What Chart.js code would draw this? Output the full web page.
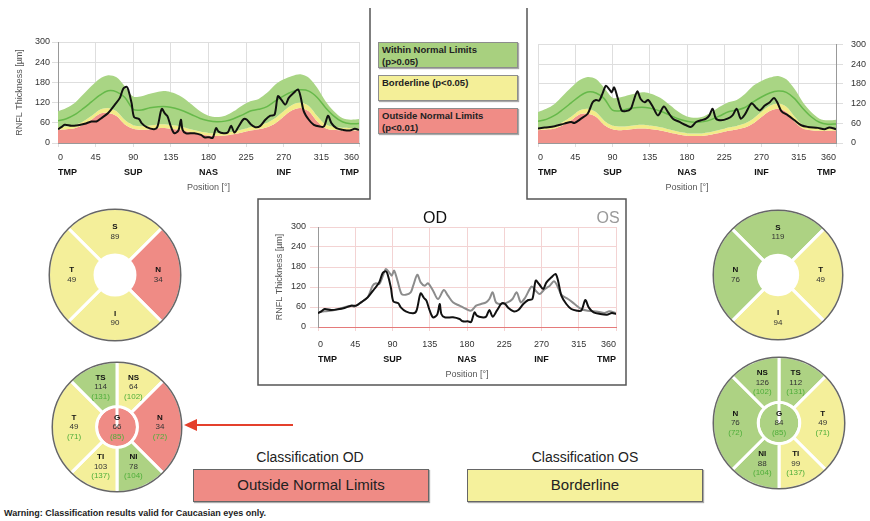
<!DOCTYPE html>
<html>
<head>
<meta charset="utf-8">
<title>RNFL Thickness OU</title>
<script src="https://cdn.jsdelivr.net/npm/chart.js"></script>
<style>
    html, body { margin: 0; padding: 0; background: #fff; }
    body { width: 870px; height: 521px; position: relative; overflow: hidden;
           font-family: 'Liberation Sans', Arial, sans-serif; color: #222; }
    canvas, svg, .txt { position: absolute; }
    .key { position: absolute; left: 378px; width: 140px; height: 26px; box-sizing: border-box;
           border: 1px solid #8d8d8d; box-shadow: 1px 1px 1px #aaa; padding: 1px 0 0 3px;
           font-size: 9.5px; font-weight: bold; line-height: 12px; color: #222; }
    .cls-title { position: absolute; top: 449px; width: 240px; text-align: center; font-size: 14px; line-height: 17px; color: #222; }
    .cls-box { position: absolute; top: 469px; width: 236px; height: 33px; box-sizing: border-box;
               border: 1.5px solid #666; box-shadow: 1px 1px 1px #aaa; text-align: center;
               font-size: 15px; line-height: 30px; color: #222; }
</style>
</head>
<body>

<svg width="870" height="521" style="left:0;top:0">
    <polyline points="370,8 370,199 258,199 258,385 626,385 626,199 527,199 527,8"
              fill="none" stroke="#555" stroke-width="1.5"/>
    <line x1="293" y1="425" x2="194" y2="425" stroke="#e4402c" stroke-width="2"/>
    <polygon points="184,425 197,419 197,431" fill="#e4402c"/>
</svg>

<div class="key" style="top:42px;background:#a8d07f">Within Normal Limits<br>(p&gt;0.05)</div>
<div class="key" style="top:75px;background:#f4ef98">Borderline (p&lt;0.05)</div>
<div class="key" style="top:108px;background:#f08c86">Outside Normal Limits<br>(p&lt;0.01)</div>

<canvas id="profileOD" width="354" height="166" style="left:10px;top:30px"></canvas>
<canvas id="profileOS" width="334" height="165" style="left:533px;top:31px"></canvas>
<canvas id="profileOU" width="354" height="168" style="left:270px;top:215px"></canvas>
<div class="txt" style="left:405px;top:209px;width:60px;text-align:center;font-size:16px;line-height:18px;color:#111">OD</div>
<div class="txt" style="left:584px;top:209px;width:48px;text-align:center;font-size:16px;line-height:18px;color:#999">OS</div>

<canvas id="quadOD" width="136" height="136" style="left:47px;top:207px"></canvas>
<canvas id="quadOS" width="134" height="134" style="left:711px;top:208px"></canvas>
<canvas id="sixOD" width="134" height="134" style="left:50px;top:360px"></canvas>
<canvas id="sixOS" width="136" height="136" style="left:711px;top:355px"></canvas>

<div class="cls-title" style="left:190px">Classification OD</div>
<div class="cls-box" style="left:193px;background:#ef8b85">Outside Normal Limits</div>
<div class="cls-title" style="left:465px">Classification OS</div>
<div class="cls-box" style="left:467px;background:#f5f19c">Borderline</div>

<div class="txt" style="left:4px;top:508px;font-size:9px;font-weight:bold;color:#222">Warning: Classification results valid for Caucasian eyes only.</div>

<script>
// Normative bands (same for both eyes), every 10 degrees
const normAngles = [0, 10, 20, 30, 40, 50, 60, 70, 80, 90, 100, 110, 120, 130, 140, 150, 160, 170, 180,
    190, 200, 210, 220, 230, 240, 250, 260, 270, 280, 290, 300, 310, 320, 330, 340, 350, 360];
const normP1 = [39, 41, 44, 54, 69, 87, 89, 80, 55, 42, 39, 41, 44, 44, 41, 37, 31, 26, 22,
    21, 22, 26, 31, 37, 41, 47, 59, 79, 97, 104, 94, 64, 44, 39, 37, 37, 37];
const normP5 = [47, 49, 53, 64, 80, 99, 104, 94, 68, 53, 50, 52, 55, 55, 52, 47, 40, 34, 30,
    29, 30, 34, 40, 47, 52, 60, 74, 95, 113, 120, 110, 80, 55, 48, 45, 44, 44];
const normP95 = [94, 104, 119, 144, 169, 191, 201, 195, 168, 138, 139, 146, 152, 154, 147, 134, 114, 94, 81,
    77, 81, 94, 111, 124, 131, 149, 174, 189, 199, 204, 194, 164, 124, 94, 74, 69, 71];
const normMean = [66, 72, 84, 102, 122, 142, 155, 152, 135, 100, 98, 105, 108, 108, 103, 95, 84, 73, 66,
    63, 65, 72, 83, 95, 100, 108, 125, 140, 152, 158, 154, 135, 105, 80, 63, 57, 58];

// Measured RNFL thickness, right eye (OD)
const odAngles = [0, 4, 8, 16, 24, 32, 40, 46, 52, 60, 68, 74, 78, 82, 84, 88, 91, 97, 100, 106,
    115, 119, 124, 128, 131, 135, 139, 144, 147, 149, 153, 163, 171, 175, 181, 185, 189, 192, 198, 203,
    207, 211, 216, 222, 226, 230, 236, 242, 248, 254, 259, 263, 267, 272, 276, 282, 287, 290, 294, 300,
    306, 313, 318, 323, 327, 333, 341, 349, 355, 360];
const odThickness = [41, 47, 54, 51, 53, 57, 64, 64, 74, 89, 114, 134, 161, 167, 159, 119, 77, 71, 59, 47,
    41, 49, 101, 87, 79, 49, 29, 37, 69, 39, 29, 29, 24, 17, 17, 15, 44, 34, 29, 31,
    51, 31, 49, 71, 69, 57, 47, 51, 69, 81, 84, 139, 129, 114, 134, 149, 159, 139, 94, 69,
    54, 49, 49, 81, 59, 44, 39, 37, 42, 39];

// Measured RNFL thickness, left eye (OS)
const osAngles = [0, 8, 20, 32, 40, 44, 52, 60, 66, 70, 74, 78, 82, 86, 89, 92, 96, 101, 106, 112,
    115, 120, 124, 129, 133, 139, 145, 152, 157, 163, 171, 179, 185, 191, 197, 203, 207, 211, 215, 221,
    229, 235, 240, 245, 250, 258, 263, 268, 274, 280, 285, 289, 294, 302, 310, 318, 326, 338, 346, 352, 360];
const osThickness = [44, 47, 51, 59, 64, 61, 74, 89, 124, 131, 129, 151, 174, 164, 154, 169, 139, 99, 97, 104,
    124, 157, 134, 124, 131, 109, 84, 111, 94, 74, 64, 54, 49, 64, 69, 74, 84, 104, 74, 69,
    74, 84, 104, 74, 87, 121, 109, 99, 114, 124, 137, 124, 97, 84, 69, 54, 49, 46, 42, 47, 42];

// Axis labels
const regionAngles = [0, 90, 180, 270, 360];
const regionNames = ['TMP', 'SUP', 'NAS', 'INF', 'TMP'];

// Sector maps (clockwise from the top); W = within, B = borderline, O = outside
const quadSpan = [90, 90, 90, 90];
const quadNamesOD = ['S', 'N', 'I', 'T'];
const quadOD = [89, 34, 90, 49];
const quadClassOD = ['B', 'O', 'B', 'B'];
const quadNamesOS = ['S', 'T', 'I', 'N'];
const quadOS = [119, 49, 94, 76];
const quadClassOS = ['W', 'B', 'B', 'W'];

const sectorSpan = [45, 90, 45, 45, 90, 45];
const sectorNamesOD = ['NS', 'N', 'NI', 'TI', 'T', 'TS'];
const sectorOD = [64, 34, 78, 103, 49, 114];
const sectorNormOD = [102, 72, 104, 137, 71, 131];
const sectorClassOD = ['B', 'O', 'W', 'B', 'B', 'W'];
const globalOD = [66], globalNormOD = [85], globalClassOD = ['O'];
const sectorNamesOS = ['TS', 'T', 'TI', 'NI', 'N', 'NS'];
const sectorOS = [112, 49, 99, 88, 76, 126];
const sectorNormOS = [131, 71, 137, 104, 72, 102];
const sectorClassOS = ['W', 'B', 'B', 'W', 'W', 'W'];
const globalOS = [84], globalNormOS = [85], globalClassOS = ['W'];

const FONT = "'Liberation Sans', Arial, sans-serif";
const classColors = { W: '#add283', B: '#f4ef9a', O: '#ef8b85' };

Chart.defaults.font.family = FONT;
Chart.defaults.animation = false;

const pts = (xs, ys) => xs.map((x, i) => ({ x: x, y: ys[i] }));

function bandSets() {
    return [
        { data: pts(normAngles, normP1), backgroundColor: '#f1928b', borderWidth: 0, fill: 'origin', order: 5 },
        { data: pts(normAngles, normP5), backgroundColor: '#f3ec88', borderWidth: 0, fill: '-1', order: 4 },
        { data: pts(normAngles, normP95), backgroundColor: '#a9d584', borderWidth: 0, fill: '-1', order: 3 },
        { data: pts(normAngles, normMean), borderColor: '#66b94a', borderWidth: 1.5, fill: false, order: 2 }
    ];
}

function profileChart(id, datasets, opt) {
    new Chart(document.getElementById(id), {
        type: 'line',
        data: { datasets: datasets },
        options: {
            responsive: false,
            events: [],
            elements: { point: { radius: 0 }, line: { tension: 0.3 } },
            layout: { padding: { top: 12, left: opt.padLeft, right: opt.padRight, bottom: 0 } },
            plugins: { legend: { display: false }, tooltip: { enabled: false } },
            scales: {
                x: {
                    type: 'linear', min: 0, max: 360, position: 'bottom',
                    grid: { color: opt.grid, tickLength: 4 },
                    border: { color: opt.zeroLine },
                    ticks: { stepSize: 45, align: 'inner', padding: opt.xPad, autoSkip: false, maxRotation: 0,
                             color: '#333', font: { size: 9 } },
                    afterFit: s => { s.height = opt.xHeight; }
                },
                x2: {
                    type: 'linear', min: 0, max: 360, position: 'bottom',
                    grid: { display: false, drawTicks: false },
                    border: { display: false },
                    ticks: { stepSize: 90, align: 'inner', padding: 4, autoSkip: false, maxRotation: 0,
                             color: '#111', font: { size: 9, weight: 'bold' },
                             callback: v => regionNames[regionAngles.indexOf(v)] },
                    title: { display: true, text: 'Position [°]', color: '#555', font: { size: 9 },
                             padding: { top: 2, bottom: 3 } },
                    afterFit: s => { s.height = 33; }
                },
                y: {
                    min: 0, max: 300, position: opt.yPos,
                    grid: { color: opt.grid, tickLength: opt.tickLen },
                    border: { color: '#999' },
                    ticks: { stepSize: 60, padding: opt.tickPad, color: '#333', font: { size: 9 } },
                    title: { display: opt.yTitle, text: 'RNFL Thickness [µm]', color: '#555', font: { size: 9 } },
                    afterFit: s => { s.width = opt.yWidth; }
                }
            }
        }
    });
}

// Top left: right eye against normative data
profileChart('profileOD', bandSets().concat([
    { data: pts(odAngles, odThickness), borderColor: '#111', borderWidth: 2, fill: false, order: 1 }
]), { padLeft: 0, padRight: 3, yPos: 'left', yWidth: 48, tickLen: 6, tickPad: 2, yTitle: true,
      xPad: 5, xHeight: 20, grid: '#dedede', zeroLine: '#999' });

// Top right: left eye against normative data
profileChart('profileOS', bandSets().concat([
    { data: pts(osAngles, osThickness), borderColor: '#111', borderWidth: 2, fill: false, order: 1 }
]), { padLeft: 3, padRight: 0, yPos: 'right', yWidth: 31, tickLen: 7, tickPad: 8, yTitle: false,
      xPad: 5, xHeight: 20, grid: '#dedede', zeroLine: '#999' });

// Centre: both eyes
profileChart('profileOU', [
    { data: pts(osAngles, osThickness), borderColor: '#8c8c8c', borderWidth: 2, fill: false, order: 2 },
    { data: pts(odAngles, odThickness), borderColor: '#111', borderWidth: 2, fill: false, order: 1 }
], { padLeft: 0, padRight: 4, yPos: 'left', yWidth: 48, tickLen: 8, tickPad: 4, yTitle: true,
     xPad: 8, xHeight: 23, grid: '#f3d3d3', zeroLine: '#e57a7a' });

// Labels inside the sectors and the dark rim
const sectorText = {
    id: 'sectorText',
    afterDatasetsDraw(chart) {
        const ctx = chart.ctx;
        ctx.save();
        ctx.textAlign = 'center';
        ctx.textBaseline = 'middle';
        chart.data.datasets.forEach((ds, di) => {
            chart.getDatasetMeta(di).data.forEach((arc, i) => {
                const p = ds.isCenter ? { x: arc.x, y: arc.y } : arc.tooltipPosition();
                const lines = [[ds.names[i], 'bold 8px ' + FONT, '#111'],
                               [String(ds.values[i]), '8px ' + FONT, '#333']];
                if (ds.norms) lines.push(['(' + ds.norms[i] + ')', '8px ' + FONT, '#4fae3a']);
                const top = p.y - (lines.length - 1) * 4.75;
                lines.forEach((l, k) => {
                    ctx.font = l[1];
                    ctx.fillStyle = l[2];
                    ctx.fillText(l[0], p.x, top + k * 9.5);
                });
            });
        });
        const a = chart.getDatasetMeta(0).data[0];
        ctx.beginPath();
        ctx.arc(a.x, a.y, a.outerRadius - 0.75, 0, Math.PI * 2);
        ctx.strokeStyle = '#666';
        ctx.lineWidth = 1.5;
        ctx.stroke();
        ctx.restore();
    }
};

function sectorChart(id, datasets, rotation, cutout) {
    new Chart(document.getElementById(id), {
        type: 'doughnut',
        data: { datasets: datasets },
        options: {
            responsive: false,
            events: [],
            rotation: rotation,
            cutout: cutout,
            layout: { padding: 0 },
            elements: { arc: { borderColor: '#fff', borderWidth: 3, hoverOffset: 0 } },
            plugins: { legend: { display: false }, tooltip: { enabled: false } }
        },
        plugins: [sectorText]
    });
}

sectorChart('quadOD', [{ data: quadSpan, names: quadNamesOD, values: quadOD,
    backgroundColor: quadClassOD.map(c => classColors[c]) }], -45, '30%');
sectorChart('quadOS', [{ data: quadSpan, names: quadNamesOS, values: quadOS,
    backgroundColor: quadClassOS.map(c => classColors[c]) }], -45, '30%');

sectorChart('sixOD', [
    { data: sectorSpan, names: sectorNamesOD, values: sectorOD, norms: sectorNormOD, weight: 2.2,
      backgroundColor: sectorClassOD.map(c => classColors[c]) },
    { data: [360], names: ['G'], values: globalOD, norms: globalNormOD, weight: 1, isCenter: true,
      backgroundColor: globalClassOD.map(c => classColors[c]) }
], 0, 0);
sectorChart('sixOS', [
    { data: sectorSpan, names: sectorNamesOS, values: sectorOS, norms: sectorNormOS, weight: 2.2,
      backgroundColor: sectorClassOS.map(c => classColors[c]) },
    { data: [360], names: ['G'], values: globalOS, norms: globalNormOS, weight: 1, isCenter: true,
      backgroundColor: globalClassOS.map(c => classColors[c]) }
], 0, 0);
</script>
</body>
</html>
